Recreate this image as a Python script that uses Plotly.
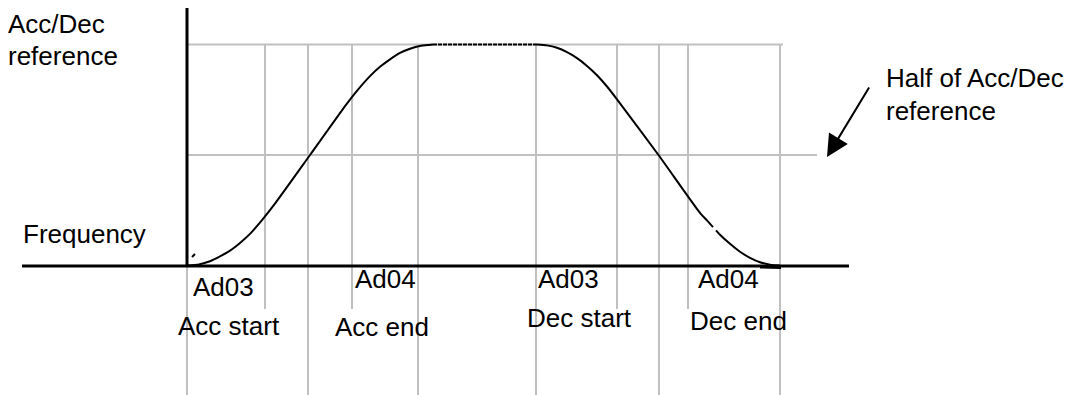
import plotly.graph_objects as go

# ---- data (time in arbitrary units from the start of acceleration, v = frequency / reference) ----
acc_t = [0, 12, 23, 33, 43, 53, 63, 75, 87, 123, 159, 171, 183, 193, 203, 213, 223, 234, 246]
acc_v = [0, 0.005, 0.019, 0.041, 0.067, 0.102, 0.143, 0.205, 0.274, 0.5, 0.727, 0.796, 0.857, 0.899, 0.933, 0.962, 0.981, 0.994, 1.0]

flat_t = [246, 350]
flat_v = [1.0, 1.0]

dec1_t = [350, 360, 370, 380, 390, 400, 410, 420, 430, 471.5, 513, 520, 526]
dec1_v = [1.0, 0.996, 0.985, 0.965, 0.938, 0.903, 0.861, 0.81, 0.752, 0.5, 0.238, 0.204, 0.174]
dec2_t = [529, 533, 543, 553, 563, 573, 583, 593]
dec2_v = [0.159, 0.139, 0.098, 0.062, 0.035, 0.015, 0.004, 0.0]

# reference levels
ref_levels = [1.0, 0.5]
ref_ends = [596, 630]

# vertical guide lines: long ones run to the bottom, short ones stop below the labels
long_guides = [0, 121, 231, 349, 472, 593]
short_guides = [78, 165, 430, 501]

labels_top = ["Ad03", "Ad04", "Ad03", "Ad04"]
labels_bottom = ["Acc start", "Acc end", "Dec start", "Dec end"]

GRAY = "#c0c0c0"
BLACK = "#000000"
FONT = "Liberation Sans, Arial, sans-serif"
W, H = 1076, 395
X0 = 187           # pixel column of t = 0
Y0 = 265.5         # pixel row of v = 0
VS = 221.0         # pixels per unit of v

def px_t(px):
    return px - X0

def py_v(py):
    return (Y0 - py) / VS

fig = go.Figure()

# gray reference lines
for lvl, end in zip(ref_levels, ref_ends):
    fig.add_trace(go.Scatter(x=[-1, end], y=[lvl, lvl], mode="lines",
                             line=dict(color=GRAY, width=2), hoverinfo="skip"))
for g in long_guides:
    fig.add_trace(go.Scatter(x=[g, g], y=[1.0, py_v(W)], mode="lines",
                             line=dict(color=GRAY, width=2), hoverinfo="skip"))
for g in short_guides:
    fig.add_trace(go.Scatter(x=[g, g], y=[1.0, py_v(309)], mode="lines",
                             line=dict(color=GRAY, width=2), hoverinfo="skip"))

# axes
fig.add_trace(go.Scatter(x=[px_t(22), px_t(849)], y=[py_v(266), py_v(266)], mode="lines",
                         line=dict(color=BLACK, width=3), hoverinfo="skip"))
fig.add_trace(go.Scatter(x=[0, 0], y=[py_v(267), py_v(8)], mode="lines",
                         line=dict(color=BLACK, width=3), hoverinfo="skip"))

# frequency profile
for tt, vv in [(acc_t, acc_v), (dec1_t, dec1_v), (dec2_t, dec2_v)]:
    fig.add_trace(go.Scatter(x=tt, y=vv, mode="lines",
                             line=dict(color=BLACK, width=2, shape="spline", smoothing=0.6),
                             hoverinfo="skip"))
fig.add_trace(go.Scatter(x=flat_t, y=flat_v, mode="lines",
                         line=dict(color=BLACK, width=2, dash="4px,1px"), hoverinfo="skip"))
# small tick near the origin
fig.add_trace(go.Scatter(x=[px_t(192), px_t(195)], y=[py_v(257), py_v(254)], mode="lines",
                         line=dict(color=BLACK, width=2), hoverinfo="skip"))
# thick end where deceleration meets the axis
fig.add_trace(go.Scatter(x=[px_t(760), px_t(781)], y=[py_v(267), py_v(267.5)], mode="lines",
                         line=dict(color=BLACK, width=3), hoverinfo="skip"))


def text(s, left, center_y):
    fig.add_annotation(text=s, x=left / W, y=1 - center_y / H, xref="paper", yref="paper",
                       xanchor="left", yanchor="middle", showarrow=False,
                       font=dict(family=FONT, size=26, color=BLACK), borderpad=0)

text("Acc/Dec", 7, 24)
text("reference", 7, 56)
text("Frequency", 22, 234)

top_pos = [(192, 287), (354, 279), (537, 279), (697, 279)]
bot_pos = [(177, 326), (334, 327), (526, 318), (689, 321)]
for s, (x, y) in zip(labels_top, top_pos):
    text(s, x, y)
for s, (x, y) in zip(labels_bottom, bot_pos):
    text(s, x, y)

text("Half of Acc/Dec", 885, 78)
text("reference", 885, 111)

# arrow pointing at the half-reference line
fig.add_annotation(x=827 / W, y=1 - 157 / H, xref="paper", yref="paper",
                   ax=870 - 827, ay=86 - 157, axref="pixel", ayref="pixel",
                   showarrow=True, arrowhead=2, arrowsize=2.2, arrowwidth=2,
                   arrowcolor=BLACK, text="", standoff=0)

fig.update_layout(
    width=W, height=H, margin=dict(l=0, r=0, t=0, b=0),
    paper_bgcolor="white", plot_bgcolor="white", showlegend=False,
    xaxis=dict(range=[px_t(0), px_t(W)], visible=False, fixedrange=True),
    yaxis=dict(range=[py_v(H), py_v(0)], visible=False, fixedrange=True),
)

fig.write_html("out.html", config={"displayModeBar": False})
